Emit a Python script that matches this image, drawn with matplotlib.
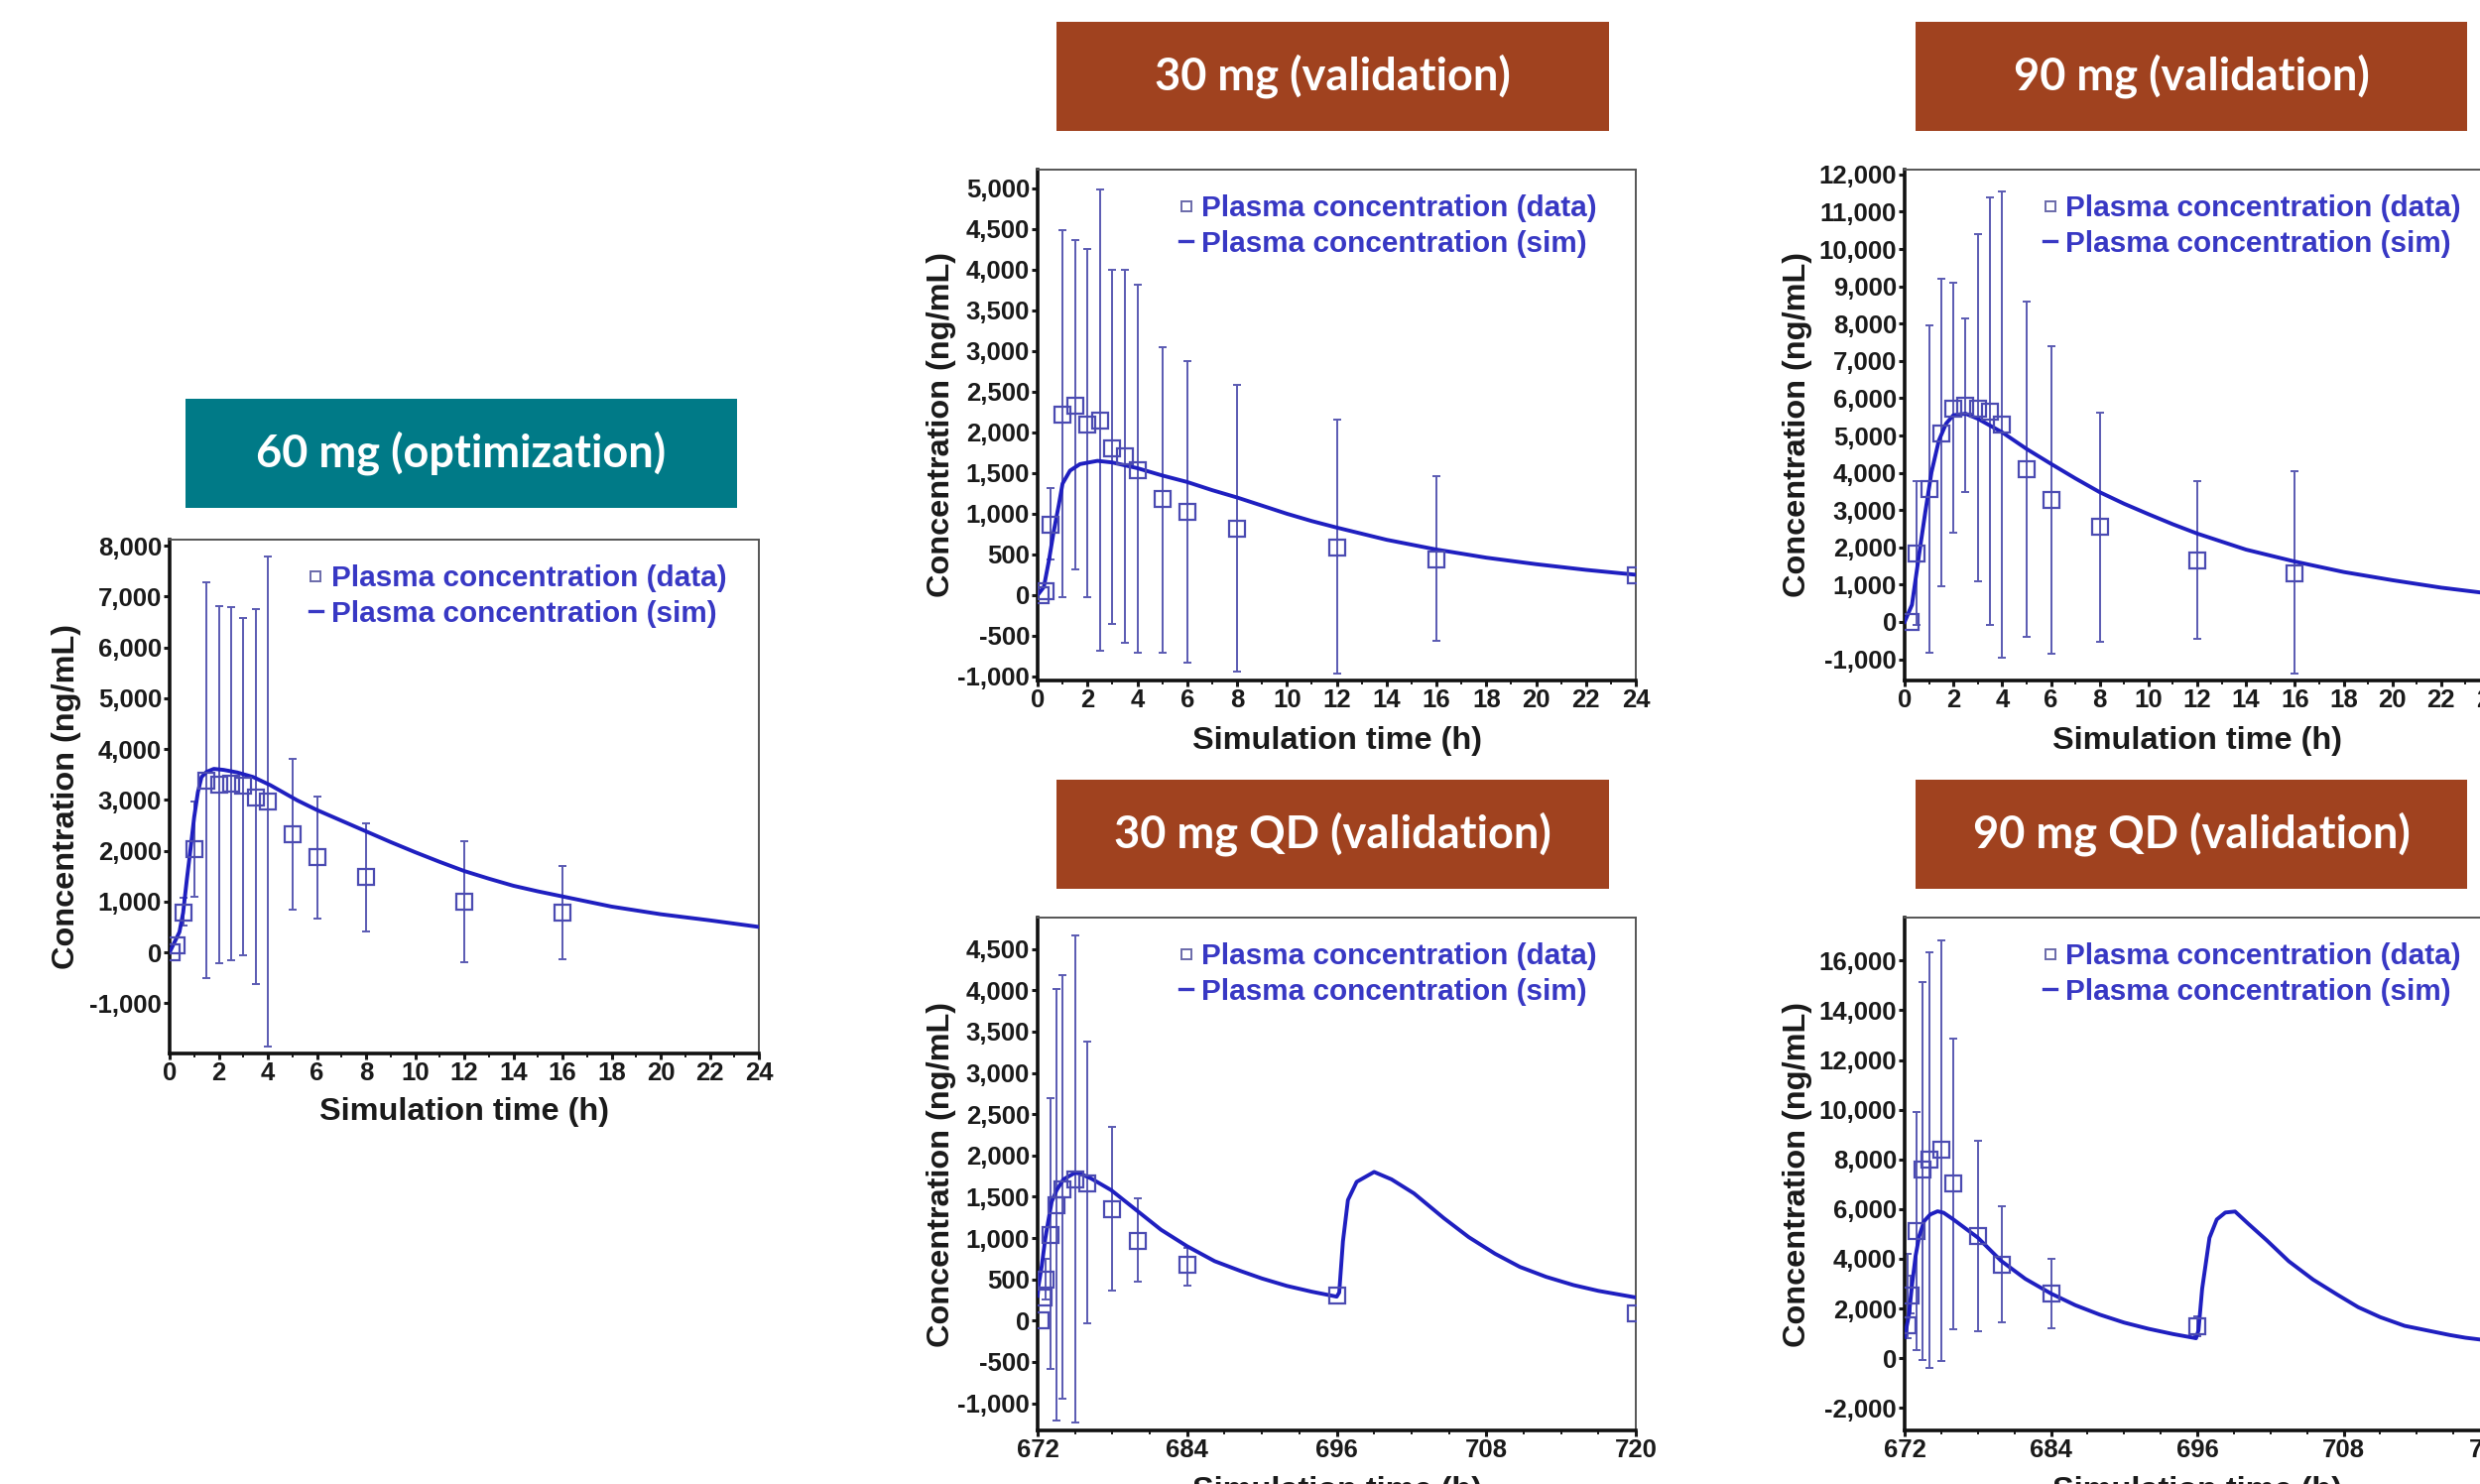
import numpy as np
import matplotlib
matplotlib.use("Agg")
import matplotlib.pyplot as plt
from matplotlib.patches import Rectangle
from matplotlib.lines import Line2D
from matplotlib.ticker import MultipleLocator, FuncFormatter

nan = np.nan

# 60 mg (optimization)
t_60 = [0.1, 0.3, 0.55, 1, 1.5, 2, 2.5, 3, 3.5, 4, 5, 6, 8, 12, 16]
c_60 = [0, 130, 790, 2030, 3370, 3290, 3320, 3270, 3050, 2970, 2320, 1880, 1490, 990, 780]
hi_60 = [nan, nan, 1070, 2960, 7290, 6820, 6790, 6580, 6760, 7780, 3810, 3060, 2540, 2180, 1700]
lo_60 = [nan, nan, 520, 1090, -510, -220, -150, -50, -630, -1860, 840, 670, 410, -190, -130]
sim_t_60 = [0, 0.2, 0.4, 0.55, 0.7, 0.85, 1.0, 1.15, 1.3, 1.5, 1.8, 2.2, 2.75, 3.4, 4.1,
            5.2, 6, 7, 8, 9, 10, 11, 12, 13, 14, 15, 16, 18, 20, 22, 24]
sim_c_60 = [0, 200, 400, 780, 1430, 2030, 2660, 3150, 3450, 3550, 3610, 3590, 3540, 3450, 3290,
            2990, 2800, 2590, 2380, 2170, 1970, 1780, 1600, 1450, 1310, 1200, 1100, 900, 750,
            630, 500]

# 30 mg (validation)
t_30 = [0.1, 0.3, 0.5, 1, 1.5, 2, 2.5, 3, 3.5, 4, 5, 6, 8, 12, 16, 24]
c_30 = [0, 50, 870, 2220, 2330, 2100, 2150, 1800, 1700, 1530, 1180, 1020, 815, 590, 440, 240]
hi_30 = [nan, nan, 1310, 4490, 4370, 4260, 4990, 4000, 4000, 3810, 3050, 2880, 2580, 2160, 1460, nan]
lo_30 = [nan, nan, 440, -20, 310, -20, -680, -360, -590, -710, -710, -830, -940, -960, -560, nan]
sim_t_30 = [0, 0.25, 0.45, 0.65, 0.85, 1.0, 1.3, 1.7, 2.4, 3, 4, 5, 6, 7, 8, 9, 10, 11, 12,
            14, 16, 18, 20, 22, 24]
sim_c_30 = [0, 100, 420, 790, 1110, 1370, 1530, 1610, 1650, 1630, 1560, 1470, 1390, 1290, 1200,
            1100, 1000, 910, 830, 680, 560, 460, 380, 310, 250]

# 90 mg (validation)
t_90 = [0.25, 0.5, 1, 1.5, 2, 2.5, 3, 3.5, 4, 5, 6, 8, 12, 16]
c_90 = [0, 1840, 3570, 5060, 5720, 5810, 5720, 5650, 5300, 4100, 3270, 2540, 1640, 1310]
hi_90 = [nan, 3770, 7950, 9200, 9090, 8150, 10410, 11390, 11550, 8580, 7400, 5620, 3780, 4030]
lo_90 = [nan, -90, -830, 960, 2390, 3480, 1080, -90, -960, -410, -850, -530, -460, -1380]
sim_t_90 = [0, 0.3, 0.6, 0.85, 1.1, 1.4, 1.7, 2, 2.5, 3, 4, 5, 6, 7, 8, 9, 10, 11, 12, 14, 16,
            18, 20, 22, 24]
sim_c_90 = [0, 460, 1840, 2960, 4010, 4860, 5320, 5545, 5585, 5450, 5085, 4640, 4240, 3850,
            3480, 3170, 2890, 2620, 2370, 1940, 1620, 1340, 1120, 920, 760]

# 30 mg QD (validation)
t_30qd = [672.25, 672.5, 672.6, 673, 673.5, 674, 675, 676, 678, 680, 684, 696, 720]
c_30qd = [0, 280, 500, 1040, 1400, 1590, 1710, 1660, 1350, 970, 680, 300, 85]
hi_30qd = [nan, nan, 750, 2690, 4010, 4180, 4660, 3380, 2340, 1480, 880, nan, nan]
lo_30qd = [nan, nan, 250, -590, -1210, -950, -1230, -30, 365, 470, 420, nan, nan]
sim_t_30qd = [672, 672.07, 672.33, 672.6, 672.87, 673.13, 673.53, 674.07, 675, 675.4, 676.3,
              677.9, 679.9, 681.9, 684, 686.2, 688.3, 690, 692, 694, 696, 696.2, 696.5, 696.9,
              697.6, 699, 700.4, 702.2, 703.4, 704.6, 706.6, 708.7, 710.7, 712.8, 715, 717, 720]
sim_c_30qd = [300, 420, 660, 980, 1220, 1440, 1580, 1710, 1790, 1780, 1720, 1580, 1340, 1100,
              900, 720, 600, 510, 420, 350, 290, 340, 960, 1460, 1680, 1800, 1710, 1540, 1390,
              1240, 1010, 810, 650, 530, 430, 360, 280]

# 90 mg QD (validation)
t_90qd = [672.25, 672.5, 673, 673.5, 674, 675, 676, 678, 680, 684, 696, 720]
c_90qd = [1330, 2520, 5120, 7575, 8000, 8370, 7040, 4920, 3750, 2590, 1270, 370]
hi_90qd = [4200, 3300, 9900, 15140, 16320, 16800, 12840, 8740, 6120, 3990, 1700, nan]
lo_90qd = [800, 1800, 330, -70, -400, -110, 1170, 1090, 1435, 1220, 900, nan]
sim_t_90qd = [672, 672.35, 672.6, 672.9, 673.2, 673.6, 674.1, 674.7, 675.2, 676, 678, 679.9,
              681.9, 684, 686, 688, 690, 692, 694, 695.9, 696.1, 696.4, 697, 697.6, 698.3,
              699.1, 700.2, 701.7, 703.5, 705.5, 707.5, 709.2, 711, 713, 715, 716.7, 718, 720]
sim_c_90qd = [850, 1730, 2920, 4120, 4920, 5515, 5780, 5910, 5850, 5580, 4850, 3920, 3190,
              2600, 2130, 1750, 1430, 1180, 970, 800, 1120, 2790, 4840, 5580, 5860, 5900, 5400,
              4740, 3900, 3160, 2550, 2050, 1650, 1300, 1100, 930, 820, 700]

titles = ["60 mg (optimization)", "30 mg (validation)", "90 mg (validation)",
          "30 mg QD (validation)", "90 mg QD (validation)"]

LINE = "#1f1fc0"
MARK = "#4b4bb2"
ERR = "#5a5ab2"
TXT = "#3838c4"
TEAL = "#007a87"
BROWN = "#a0421f"

W, H = 2500, 1496
fig = plt.figure(figsize=(25, 14.96), dpi=100)
plt.rcParams["font.family"] = ["Liberation Sans", "DejaVu Sans"]


def px_axes(x0, x1, y0, y1):
    return fig.add_axes([x0 / W, 1 - y1 / H, (x1 - x0) / W, (y1 - y0) / H])


def box(x0, x1, y0, y1, color, label):
    fig.add_artist(Rectangle((x0 / W, 1 - y1 / H), (x1 - x0) / W, (y1 - y0) / H,
                             transform=fig.transFigure, color=color, lw=0))
    fig.text((x0 + x1) / 2 / W, 1 - (y0 + y1) / 2 / H, label, ha="center", va="center",
             color="white", fontsize=32.5, fontweight="bold", family=["Lato", "DejaVu Sans"])


def panel(ax, t, c, lo, hi, st, sc, xlim, ylim, xmaj, xmin, ymaj, ylab_x, xlab_y):
    t = np.array(t, float)
    c = np.array(c, float)
    lo = np.array(lo, float)
    hi = np.array(hi, float)
    m = ~np.isnan(hi)
    ax.errorbar(t[m], c[m], yerr=[c[m] - lo[m], hi[m] - c[m]], fmt="none", ecolor=ERR,
                elinewidth=1.4, capsize=3, capthick=1.4, zorder=2)
    ax.plot(st, sc, color=LINE, lw=2.8, zorder=3, solid_joinstyle="round")
    ax.plot(t, c, ls="none", marker="s", ms=11, mfc="none", mec=MARK, mew=1.6, zorder=4)
    ax.set_xlim(*xlim)
    ax.set_ylim(*ylim)
    ax.xaxis.set_major_locator(MultipleLocator(xmaj))
    ax.xaxis.set_minor_locator(MultipleLocator(xmin))
    ax.yaxis.set_major_locator(MultipleLocator(ymaj))
    ax.yaxis.set_major_formatter(FuncFormatter(lambda v, _: f"{int(round(v)):,}"))
    for s in ["left", "bottom"]:
        ax.spines[s].set_linewidth(2.6)
        ax.spines[s].set_color("#111111")
    for s in ["top", "right"]:
        ax.spines[s].set_linewidth(1.4)
        ax.spines[s].set_color("#555555")
    ax.tick_params(which="major", direction="out", length=4.5, width=2.2, labelsize=18.5,
                   colors="#1a1a1a", top=False, right=False, pad=1.2)
    ax.tick_params(which="minor", direction="out", length=3, width=1.4, colors="#1a1a1a")
    ax.tick_params(axis="y", which="minor", left=False)
    for lab in ax.get_xticklabels() + ax.get_yticklabels():
        lab.set_fontweight("bold")
    ax.set_ylabel("Concentration (ng/mL)", fontsize=23.4, fontweight="bold", color="#1a1a1a")
    ax.set_xlabel("Simulation time (h)", fontsize=23.4, fontweight="bold", color="#1a1a1a")
    ax.yaxis.set_label_coords(ylab_x, 0.5)
    ax.xaxis.set_label_coords(0.5, xlab_y)
    handles = [Line2D([], [], ls="none", marker="s", ms=7.5, mfc="none", mec="#6a6aaa", mew=1.4),
               Line2D([], [], color=TXT, lw=2.4)]
    ax.legend(handles, ["Plasma concentration (data)", "Plasma concentration (sim)"],
              loc="upper left", bbox_to_anchor=(0.237, 0.951), frameon=False,
              borderpad=0, borderaxespad=0, handlelength=0.45, handletextpad=0.3,
              labelspacing=0.25, labelcolor=TXT,
              prop={"family": "Liberation Sans", "weight": "bold", "size": 21.4})


ax1 = px_axes(171, 765, 544, 1062)
panel(ax1, t_60, c_60, lo_60, hi_60, sim_t_60, sim_c_60, (0, 24), (-1990, 8120),
      2, 1, 1000, -0.15, -0.084)
box(187, 743, 402, 512, TEAL, titles[0])

ax2 = px_axes(1046, 1649, 171, 686)
panel(ax2, t_30, c_30, lo_30, hi_30, sim_t_30, sim_c_30, (0, 24), (-1050, 5230),
      2, 1, 500, -0.136, -0.089)
box(1065, 1622, 22, 132, BROWN, titles[1])

ax3 = px_axes(1920, 2510, 171, 686)
panel(ax3, t_90, c_90, lo_90, hi_90, sim_t_90, sim_c_90, (0, 24), (-1570, 12130),
      2, 1, 1000, -0.157, -0.089)
box(1931, 2487, 22, 132, BROWN, titles[2])

ax4 = px_axes(1046, 1649, 925, 1442)
panel(ax4, t_30qd, c_30qd, lo_30qd, hi_30qd, sim_t_30qd, sim_c_30qd, (672, 720),
      (-1330, 4880), 12, 3, 500, -0.136, -0.089)
box(1065, 1622, 786, 896, BROWN, titles[3])

ax5 = px_axes(1920, 2510, 925, 1442)
panel(ax5, t_90qd, c_90qd, lo_90qd, hi_90qd, sim_t_90qd, sim_c_90qd, (672, 720),
      (-2910, 17730), 12, 3, 2000, -0.157, -0.089)
box(1931, 2487, 786, 896, BROWN, titles[4])

fig.savefig("out.png", dpi=100, facecolor="white")
